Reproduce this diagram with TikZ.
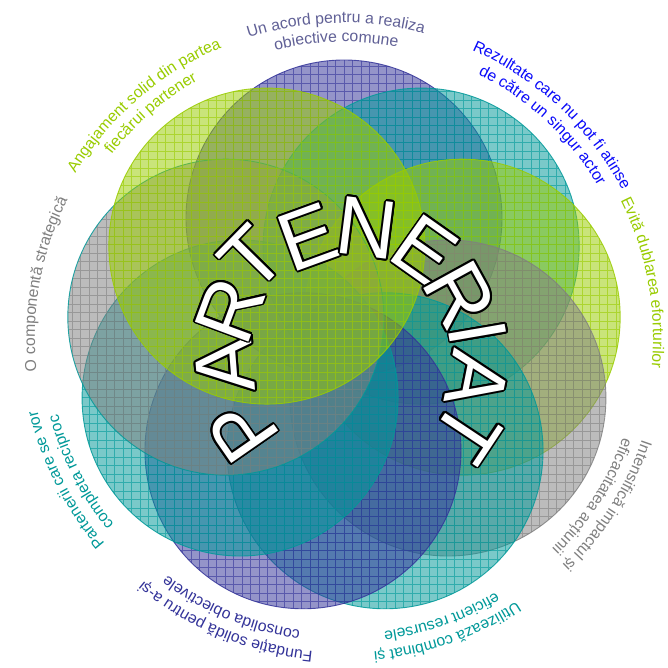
\documentclass[tikz,border=0pt]{standalone}
\usepackage{fontspec}
\setmainfont{Liberation Sans}
\usetikzlibrary{decorations.text}
\definecolor{cpur}{RGB}{51,51,153}
\definecolor{cteal}{RGB}{0,153,153}
\definecolor{cgreen}{RGB}{153,204,0}
\definecolor{cgrey}{RGB}{128,128,128}
\definecolor{lpur}{RGB}{96,96,150}
\definecolor{lblue}{RGB}{10,10,250}
\newcommand\labfont{\fontsize{15.8}{18}\selectfont}
\newcommand\bigfont{\fontsize{83}{90}\selectfont}
\newcommand\arclabel[4]{%
  \path[decorate, decoration={text along path, text={|\labfont\color{#3}|#4}, text align=center}]
    (#1+70:#2) arc[start angle=#1+70, end angle=#1-70, radius=#2];}
\tikzset{
  bigl/.style={font=\bigfont, inner sep=0pt, outer sep=0pt},
  ringline/.style={line width=0.9pt, opacity=0.85},
  gridline/.style={line width=0.8pt, opacity=0.6}
}
\begin{document}
\begin{tikzpicture}[x=1pt,y=1pt]
\useasboundingbox (-344,-329) rectangle (324,338);
\fill[white] (-344,-329) rectangle (324,338);
% circles
\foreach \ang/\fc/\oc [count=\i] in {90/cpur/cpur, 50/cteal/cteal, 10/cgreen/cgreen, -30/cgrey/cgrey, -70/cteal/cteal, -110/cpur/cpur, -150/cteal/cteal, 170/cgrey/cteal, 130/cgreen/cgreen} {
  \path (\ang:120) coordinate (c\i);
  \begin{scope}
    \clip (c\i) circle[radius=158];
    \fill[\fc, fill opacity=0.52] (c\i) circle[radius=158];
    \draw[\fc, gridline] (-340.0,-323) grid[step=8.5] (324,338);
  \end{scope}
  \draw[\oc, ringline] (c\i) circle[radius=158];
}
% labels
\arclabel{91.5}{315}{lpur}{Un acord pentru a realiza}
\arclabel{91.5}{296}{lpur}{obiective comune}
\arclabel{47}{315}{lblue}{Rezultate care nu pot fi atinse}
\arclabel{47}{296}{lblue}{de către un singur actor}
\arclabel{10.5}{309}{cgreen}{Evită dublarea eforturilor}
\arclabel{-32.5}{315}{cgrey}{Intensifică impactul și}
\arclabel{-32.5}{296}{cgrey}{eficacitatea acțiunii}
\arclabel{-70.7}{315}{cteal}{Utilizează combinat și}
\arclabel{-70.7}{296}{cteal}{eficient resursele}
\arclabel{-112.6}{315}{cpur}{Fundație solidă pentru a-și}
\arclabel{-112.6}{296}{cpur}{consolida obiectivele}
\arclabel{-153}{315}{cteal}{Partenerii care se vor}
\arclabel{-153}{296}{cteal}{completa reciproc}
\arclabel{169.8}{309}{cgrey}{O componentă strategică}
\arclabel{130.7}{315}{cgreen}{Angajament solid din partea}
\arclabel{130.7}{296}{cgreen}{fiecărui partener}
% big arched word
\foreach \px/\py/\rot/\ch [count=\k] in {-101/-92/124.8/P, -119/-27/94.5/A, -114/28/69.6/R, -92/80/45.6/T, -36/101/20/E, 23/110/-7.2/N, 81/88/-35.2/E, 116/43/-61.2/R, 134/5/-80.2/I, 133/-42/-101.2/A, 123/-94/-123.6/T} {
  \coordinate (L\k) at (\px,\py);
  \foreach \o in {0,22.5,...,337.5}
    \node[bigl, text=black, rotate=\rot] at ([shift={(\o:1.8)}]L\k) {\ch};
  \node[bigl, text=white, rotate=\rot] (letter\k) at (L\k) {\ch};
}
\end{tikzpicture}
\end{document}
